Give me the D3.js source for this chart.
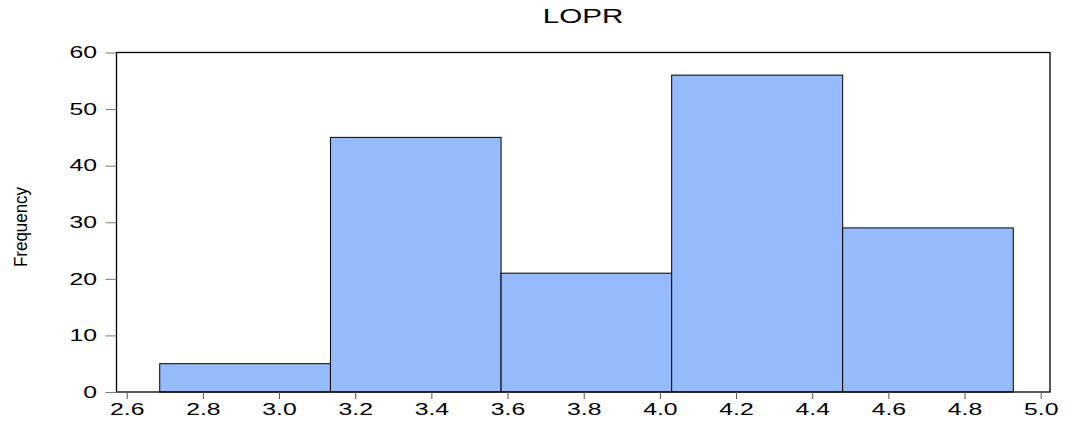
<!DOCTYPE html>
<html><head><meta charset="utf-8">
<script src="https://cdn.jsdelivr.net/npm/d3@7"></script>
<style>body{margin:0;background:#fff}svg{display:block}</style>
</head><body><svg id="c" width="1065" height="423"></svg>
<script>
const binEdges = [2.6867, 3.135, 3.583, 4.031, 4.480, 4.928];
const counts = [5, 45, 21, 56, 29];
const xTicks = [2.6, 2.8, 3.0, 3.2, 3.4, 3.6, 3.8, 4.0, 4.2, 4.4, 4.6, 4.8, 5.0];
const yTicks = [0, 10, 20, 30, 40, 50, 60];
const title = "LOPR";
const yLabel = "Frequency";

const svg = d3.select("#c");
const L = 116.5, R = 1050, T = 52.5, B = 392;
const x = d3.scaleLinear().domain([2.5732, 5.0244]).range([L, R]);
const y = d3.scaleLinear().domain([0, 60]).range([B, T]);
const font = "'Liberation Sans', Arial, sans-serif";
const SX = 1.52;

const bins = counts.map((c, i) => ({x0: binEdges[i], x1: binEdges[i+1], c}));
svg.selectAll("rect.bar").data(bins).join("rect").attr("class","bar")
  .attr("x", d => x(d.x0)).attr("width", d => x(d.x1) - x(d.x0))
  .attr("y", d => y(d.c)).attr("height", d => y(0) - y(d.c))
  .attr("fill", "#96bbfd").attr("stroke", "#000").attr("stroke-width", 1);

// frame
svg.append("rect").attr("x", L).attr("y", T).attr("width", R - L).attr("height", B - T)
  .attr("fill", "none").attr("stroke", "#000").attr("stroke-width", 1.3);

const yAxis = svg.append("g").attr("transform", `translate(${L},0)`)
  .call(d3.axisLeft(y).tickValues(yTicks).tickSize(11).tickPadding(8).tickFormat(d3.format("d")));
yAxis.select(".domain").remove();
yAxis.selectAll("line").attr("stroke", "#777");
yAxis.selectAll("text").attr("font-family", font).attr("font-size", 16.3).attr("fill", "#000")
  .attr("x", -19.5 / SX).attr("transform", `scale(${SX},1)`);

const xAxis = svg.append("g").attr("transform", `translate(0,${B})`)
  .call(d3.axisBottom(x).tickValues(xTicks).tickSize(7).tickPadding(4).tickFormat(d3.format(".1f")));
xAxis.select(".domain").remove();
xAxis.selectAll("line").attr("stroke", "#555");
xAxis.selectAll("text").attr("font-family", font).attr("font-size", 16.3).attr("fill", "#000")
  .attr("transform", `scale(${SX},1)`);

svg.append("text").attr("transform", `translate(583,23.3) scale(${SX},1)`).attr("text-anchor", "middle")
  .attr("font-family", font).attr("font-size", 19.5).text(title);

svg.append("text").attr("transform", "translate(27,227) scale(1.25,1) rotate(-90)").attr("text-anchor", "middle")
  .attr("font-family", font).attr("font-size", 14.5).attr("textLength", 80)
  .attr("lengthAdjust", "spacingAndGlyphs").text(yLabel);
</script></body></html>
